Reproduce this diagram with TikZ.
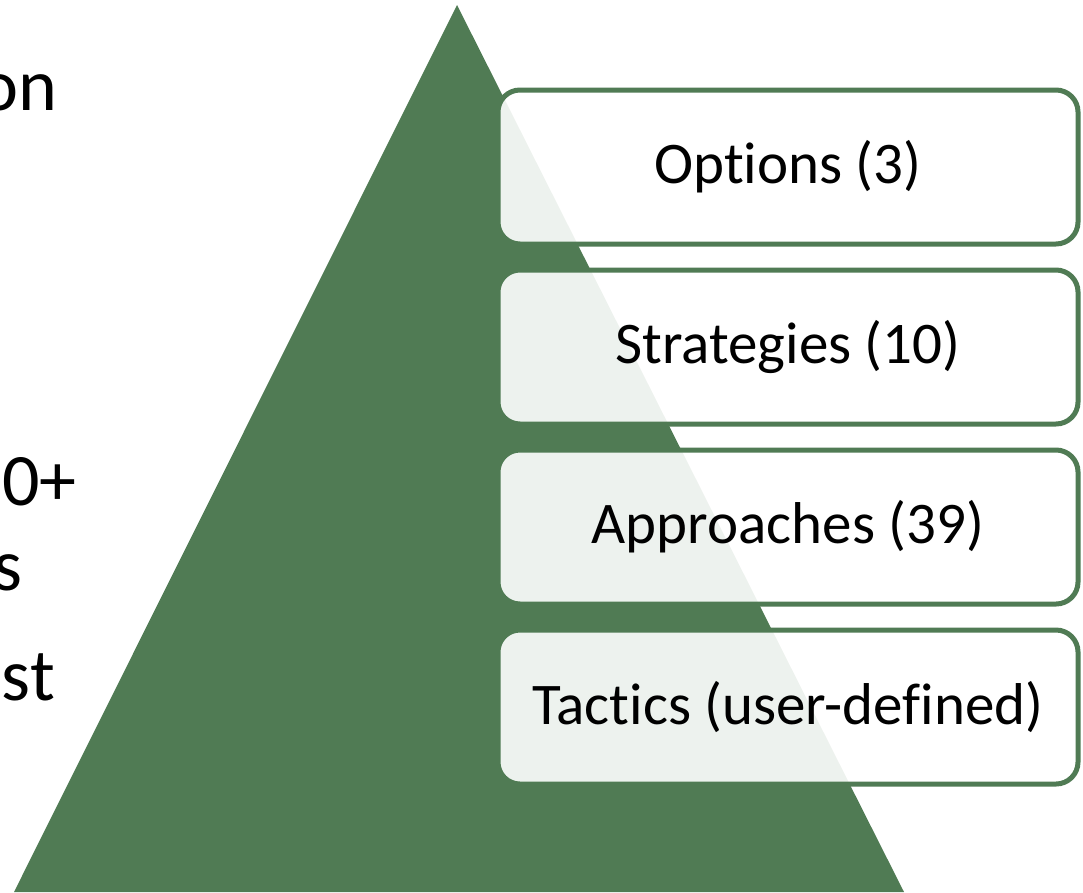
\documentclass[tikz,border=0pt]{standalone}
\usepackage{fontspec}
\setmainfont{Carlito}[Ligatures=NoCommon]
\usepackage{tikz}
\usetikzlibrary{positioning}
\definecolor{pyramid}{RGB}{80,123,84}
\tikzset{	node distance=180pt,
	level/.style={
		draw=pyramid,
		line width=5pt,
		rounded corners=22pt,
		fill=white,
		fill opacity=0.9,
		text opacity=1,
		minimum width=580pt,
		minimum height=154pt,
		font=\fontsize{59}{70}\selectfont},
	side/.style={
		anchor=base east,
		inner sep=0pt,
		font=\fontsize{74}{86}\selectfont}
}

\begin{document}
\begin{tikzpicture}[x=1pt,y=-1pt]
	\useasboundingbox (0,0) rectangle (1083,892);
	\fill[pyramid] (457,5) -- (904,892) -- (14,892) -- cycle;
	\node[side] (on) at (58,110) {on};
	\node[side] (plus) at (77,505) {0+};
	\node[side] (s) at (23,590) {s};
	\node[side] (st) at (55,700) {st};
	\node[level] (opt) at (788,167) {Options (3)};
	\node[level, below of=opt] (strat) {Strategies (10)};
	\node[level, below of=strat] (appr) {Approaches (39)};
	\node[level, below of=appr] (tact) {Tactics (user-defined)};
\end{tikzpicture}
\end{document}
